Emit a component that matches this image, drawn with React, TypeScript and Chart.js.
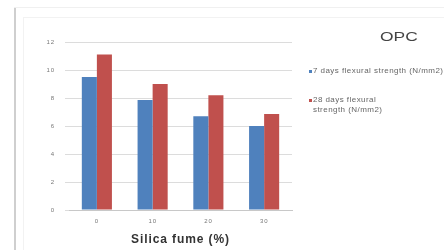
import React, { useEffect, useRef } from "react";
import { Chart, registerables } from "chart.js";

Chart.register(...registerables);

const categories = ["0", "10", "20", "30"];
const series7Days = [9.5, 7.85, 6.7, 6.0];
const series28Days = [11.1, 9.0, 8.2, 6.85];
const seriesNames = ["7 days flexural strength (N/mm2)", "28 days flexural strength (N/mm2)"];
const legendLines2 = ["28 days flexural", "strength (N/mm2)"];
const chartTitle = "OPC";
const xTitle = "Silica fume (%)";
const yTicks = [0, 2, 4, 6, 8, 10, 12];

const BLUE = "#4F81BD";
const RED = "#C0504D";

const spacingPlugin = {
  id: "spacing",
  beforeDraw: (chart: any) => {
    (chart.ctx as any).letterSpacing = "0.9px";
  },
};

export default function App() {
  const ref = useRef<HTMLCanvasElement | null>(null);

  useEffect(() => {
    if (!ref.current) return;
    const chart = new Chart(ref.current, {
      type: "bar",
      data: {
        labels: categories,
        datasets: [
          {
            label: seriesNames[0],
            data: series7Days,
            backgroundColor: BLUE,
            borderWidth: 0,
            categoryPercentage: 0.54,
            barPercentage: 1,
          },
          {
            label: seriesNames[1],
            data: series28Days,
            backgroundColor: RED,
            borderWidth: 0,
            categoryPercentage: 0.54,
            barPercentage: 1,
          },
        ],
      },
      options: {
        animation: false,
        responsive: false,
        devicePixelRatio: 1,
        layout: { padding: { left: 29, right: 152, top: 42, bottom: 0 } },
        plugins: {
          legend: { display: false },
          tooltip: { enabled: false },
          title: { display: false },
        },
        scales: {
          x: {
            afterFit: (s: any) => {
              s.height = 40;
            },
            grid: { display: false, drawTicks: false },
            border: { display: true, color: "#c8c8c8" },
            ticks: {
              padding: 8,
              color: "#777",
              font: { family: "Liberation Sans", size: 6 },
            },
            title: {
              display: true,
              text: xTitle,
              color: "#333",
              font: { family: "Liberation Sans", size: 12, weight: "bold" },
              padding: { top: 0, bottom: 3 },
            },
          },
          y: {
            min: 0,
            max: 12,
            afterFit: (s: any) => {
              s.width = 40;
            },
            afterBuildTicks: (s: any) => {
              s.ticks = yTicks.map((v) => ({ value: v }));
            },
            grid: { color: "#dcdcdc", tickLength: 4, drawTicks: true, tickColor: "#dcdcdc" },
            border: { display: false },
            ticks: {
              padding: 10,
              color: "#777",
              font: { family: "Liberation Sans", size: 6 },
            },
          },
        },
      },
      plugins: [spacingPlugin],
    });
    return () => chart.destroy();
  }, []);

  const legendText: React.CSSProperties = {
    position: "absolute",
    fontFamily: "Liberation Sans",
    fontSize: 8,
    letterSpacing: "0.45px",
    color: "#666",
    whiteSpace: "nowrap",
    lineHeight: "10px",
  };

  return (
    <div style={{ position: "absolute", left: 0, top: 0, width: 444, height: 250, background: "#fff", overflow: "hidden" }}>
      <div style={{ position: "absolute", left: 14, top: 7, width: 2, height: 243, background: "#cfcfcf" }} />
      <div style={{ position: "absolute", left: 14, top: 7, width: 430, height: 1, background: "#f0f0f0" }} />
      <div style={{ position: "absolute", left: 23, top: 17, width: 1, height: 233, background: "#f2f2f2" }} />
      <div style={{ position: "absolute", left: 23, top: 17, width: 421, height: 1, background: "#f2f2f2" }} />
      <canvas ref={ref} width={444} height={250} style={{ position: "absolute", left: 0, top: 0, display: "block" }} />
      <div
        style={{
          position: "absolute",
          left: 380,
          top: 29,
          fontFamily: "Liberation Sans",
          fontSize: 12,
          color: "#444",
          lineHeight: "16px",
          transform: "scaleX(1.45)",
          transformOrigin: "left top",
        }}
      >
        {chartTitle}
      </div>
      <div style={{ position: "absolute", left: 309, top: 70, width: 3, height: 3, background: BLUE }} />
      <div style={{ ...legendText, left: 313, top: 66 }}>{seriesNames[0]}</div>
      <div style={{ position: "absolute", left: 309, top: 99, width: 3, height: 3, background: RED }} />
      <div style={{ ...legendText, left: 313, top: 95 }}>
        {legendLines2[0]}
        <br />
        {legendLines2[1]}
      </div>
    </div>
  );
}
